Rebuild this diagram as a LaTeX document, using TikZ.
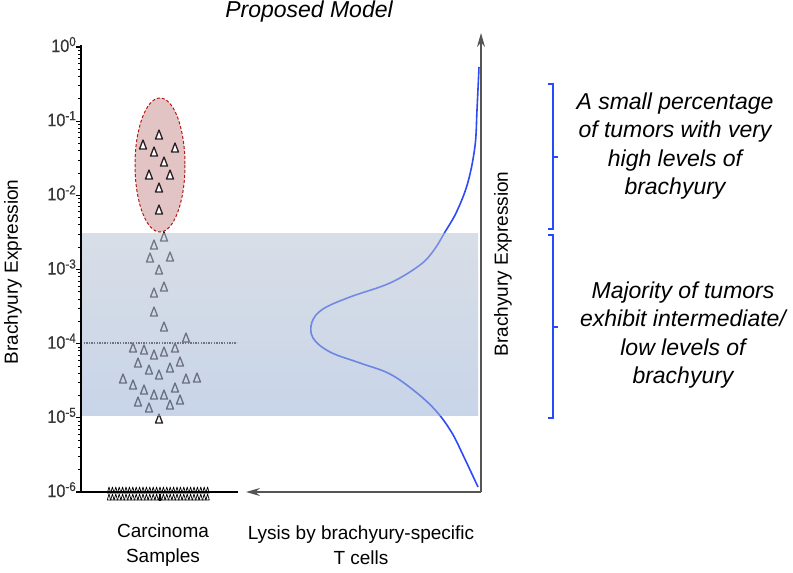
\documentclass[tikz,border=0pt]{standalone}
\usepackage{fontspec}
\setmainfont{Liberation Sans}
\newfontfamily\tickfont[FakeBold=0.6]{Liberation Sans}
\usetikzlibrary{arrows.meta}
\definecolor{curveblue}{RGB}{45,75,245}
\definecolor{brackblue}{RGB}{40,75,250}
\definecolor{bandtop}{RGB}{184,195,211}
\definecolor{bandbot}{RGB}{155,177,213}
\definecolor{ovalfill}{RGB}{226,196,196}
\definecolor{ovalline}{RGB}{180,25,20}
\definecolor{tridark}{RGB}{40,30,35}
\definecolor{axisgray}{RGB}{85,85,85}
\definecolor{ticktext}{RGB}{55,55,55}
\newcommand{\decade}[1]{\scalebox{0.9}[1]{10\raisebox{6pt}{\fontsize{13}{13}\selectfont #1}}}

\begin{document}
\begin{tikzpicture}[x=1pt, y=-1pt,
		tri/.style={draw=tridark, line width=1.3pt, fill=white, line join=round},
		smalltri/.style={draw=black, line width=0.7pt, fill=white, line join=round},
		axlab/.style={font=\fontsize{19}{25}\selectfont, align=center},
		note/.style={font=\fontsize{23}{28.5}\selectfont\itshape, align=center},
		ticklab/.style={font=\tickfont\fontsize{18}{18}\selectfont, text=ticktext, inner sep=0pt, anchor=base east},
		bracket/.style={draw=brackblue, line width=1.4pt}]
	\useasboundingbox (0,0) rectangle (793,573);
	\coordinate (o) at (481,492);
	\coordinate (ytop) at (481,33);
	\coordinate (xend) at (246,492);
	\coordinate (ltop) at (81,45);
	\coordinate (lbot) at (81,492);
	\coordinate (lend) at (238,492);

	\node[note] (title) at (309,12) {Proposed Model};

	\draw[ovalline, dash pattern=on 3pt off 2pt, line width=1pt, fill=ovalfill] (160,165) ellipse [x radius=25, y radius=67];
	\foreach \x/\y in {159/135, 143/145, 154/152, 175/148, 164/162, 149/175, 170/175, 159/188, 159/210}
		\draw[tri] (\x,\y) ++(-3.5,4) -- ++(3.5,-9) -- ++(3.5,9) -- cycle;
	\foreach \x/\y in {164/237, 154/245, 150/258, 170/257, 159/270, 164/287, 154/293, 154/312, 164/327,
		186/338, 133/348, 144/350, 154/355, 164/352, 175/348, 138/363, 149/370, 159/375, 170/368, 180/362,
		123/379, 133/385, 144/390, 154/395, 164/395, 175/388, 186/379, 197/378, 138/402, 149/408, 170/405,
		180/400, 159/419}
		\draw[tri] (\x,\y) ++(-3.5,4) -- ++(3.5,-9) -- ++(3.5,9) -- cycle;
	\draw[tridark, line width=1.3pt, dash pattern=on 1.3pt off 1.3pt] (81,343) -- (237,343);

	\draw[curveblue, line width=1.6pt] plot[smooth, tension=0.6] coordinates {(479,67) (477,110) (475,146) (468,182) (457,211) (445,232) (434,250) (420,265) (390,283) (350,297) (323,309) (312,322) (313,338) (330,352) (360,363) (390,374) (417,393) (437,412) (452,433) (463,455) (478,487)};

	\shade[top color=bandtop, bottom color=bandbot, fill opacity=0.55] (81,233) rectangle (478,415);

	\foreach \x in {0,...,29} {
		\draw[smalltri] ({109+3.4*\x},493) ++(-1.7,0) -- ++(1.7,-6) -- ++(1.7,6) -- cycle;
		\draw[smalltri] ({109+3.4*\x},500) ++(-1.7,0) -- ++(1.7,-6) -- ++(1.7,6) -- cycle;
	}
	\draw[black, line width=1.5pt] (lbot) -- (lend);
	\draw[black, line width=1.5pt] (160,494) -- (160,501);

	\draw[black, line width=1.5pt] (ltop) -- (lbot);
	\foreach \k/\s in {0/0, 1/-1, 2/-2, 3/-3, 4/-4, 5/-5, 6/-6} {
		\draw[black, line width=1.2pt] (76,{47+74.17*\k}) -- (81,{47+74.17*\k});
		\node[ticklab] (t\k) at (76,{47+74.17*\k+5}) {\decade{\s}};
	}
	\foreach \k in {0,...,5}
		\foreach \m in {2,...,9}
			\draw[black, line width=0.9pt] (78,{47+74.17*(\k+1)-74.17*log10(\m)}) -- (81,{47+74.17*(\k+1)-74.17*log10(\m)});

	\draw[axisgray, line width=1.3pt, -{Stealth[length=14pt, width=8pt]}] (o) -- (ytop);
	\draw[axisgray, line width=1.3pt, -{Stealth[length=14pt, width=8pt]}] (o) -- (xend);

	\node[axlab, rotate=90] (ylab) at (13,272) {Brachyury Expression};
	\node[axlab, rotate=90] (rlab) at (503,264) {Brachyury Expression};
	\node[axlab] (carc) at (163,545) {Carcinoma\\Samples};
	\node[axlab] (lysis) at (361,545) {Lysis by brachyury-specific\\T cells};

	\draw[bracket] (548,84) -- (553,84) -- (553,229) -- (548,229);
	\draw[bracket] (553,157) -- (558,157);
	\draw[bracket] (548,235) -- (553,235) -- (553,418) -- (548,418);
	\draw[bracket] (553,327) -- (558,327);
	\node[note] (high) at (675,146) {A small percentage\\of tumors with very\\high levels of\\brachyury};
	\node[note] (low) at (683,335) {Majority of tumors\\exhibit intermediate/\\low levels of\\brachyury};
\end{tikzpicture}
\end{document}
